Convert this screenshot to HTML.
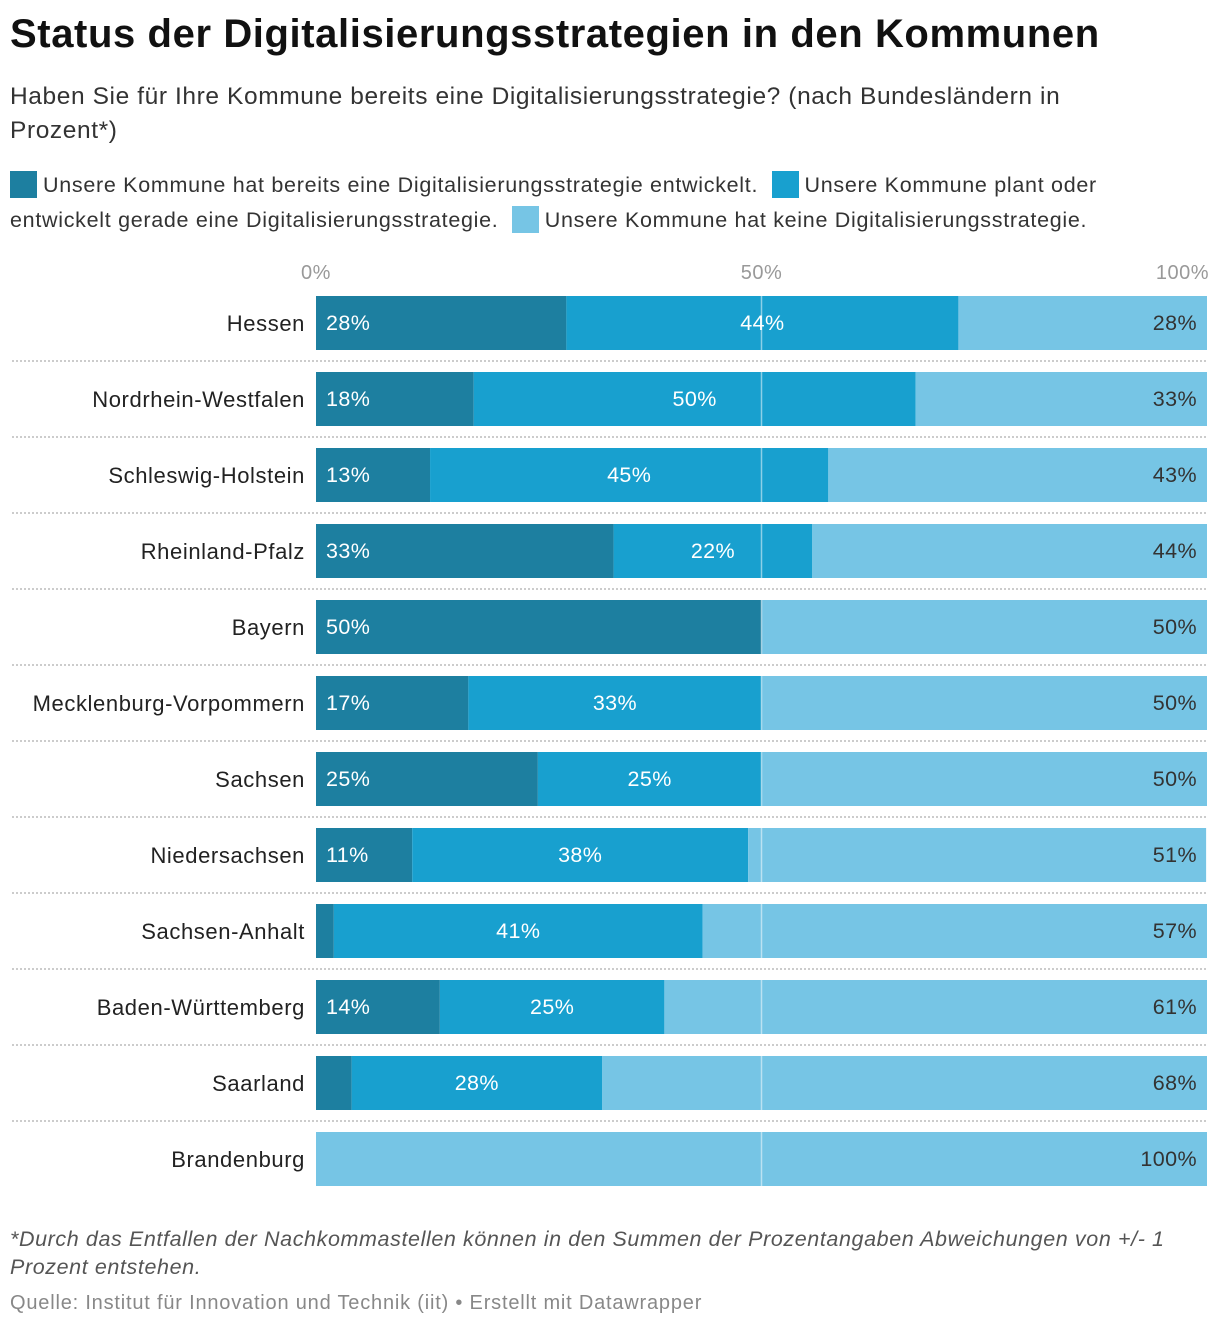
<!DOCTYPE html>
<html><head><meta charset="utf-8"><style>
body{margin:0;width:1220px;height:1330px;background:#fff;font-family:"Liberation Sans",sans-serif;position:relative;overflow:hidden;color:#222}
.t{position:absolute;left:10px;top:12px;font-size:40px;font-weight:bold;color:#111;letter-spacing:0.6px}
.s{position:absolute;left:10px;top:80px;width:1150px;font-size:24.5px;line-height:34px;color:#333;letter-spacing:0.6px}
.lg{position:absolute;left:10px;top:168px;width:1160px;font-size:21.5px;line-height:35px;color:#333;letter-spacing:0.7px}
.sw{display:inline-block;width:27px;height:27px;vertical-align:-6px;margin-right:6px}
.n1{position:absolute;left:10px;top:1225px;width:1195px;font-size:21.5px;line-height:28px;font-style:italic;color:#555;letter-spacing:0.6px}
.n2{position:absolute;left:10px;top:1292px;font-size:20px;color:#888;letter-spacing:0.8px}
</style></head><body>
<div class="t">Status der Digitalisierungsstrategien in den Kommunen</div>
<div class="s">Haben Sie für Ihre Kommune bereits eine Digitalisierungsstrategie? (nach Bundesländern in Prozent*)</div>
<div class="lg"><span><span class="sw" style="background:#1d7fa0"></span>Unsere Kommune hat bereits eine Digitalisierungsstrategie entwickelt.</span> &nbsp;<span><span class="sw" style="background:#18a0cf"></span>Unsere Kommune plant oder entwickelt gerade eine Digitalisierungsstrategie.</span> &nbsp;<span><span class="sw" style="background:#76c5e5"></span>Unsere Kommune hat keine Digitalisierungsstrategie.</span></div>
<svg id="chart" width="1220" height="1330" style="position:absolute;left:0;top:0"></svg>
<div class="n1">*Durch das Entfallen der Nachkommastellen können in den Summen der Prozentangaben Abweichungen von +/- 1 Prozent entstehen.</div>
<div class="n2">Quelle: Institut für Innovation und Technik (iit) • Erstellt mit Datawrapper</div>
<script>
const categories=["Hessen","Nordrhein-Westfalen","Schleswig-Holstein","Rheinland-Pfalz","Bayern","Mecklenburg-Vorpommern","Sachsen","Niedersachsen","Sachsen-Anhalt","Baden-Württemberg","Saarland","Brandenburg"];
const entwickelt=[28.1,17.7,12.8,33.4,50,17.1,24.9,10.8,2.0,13.9,4.0,0];
const plant=[44,49.6,44.7,22.3,0,32.9,25.1,37.7,41.4,25.2,28.1,0];
const keine=[27.9,32.7,42.5,44.3,50,50,50,51.4,56.6,60.9,67.9,100];
const ticks=[0,50,100];
const tickLabels=["0%","50%","100%"];
const svg=document.getElementById('chart');const NS="http://www.w3.org/2000/svg";
const x0=316,x1=1207;const X=v=>x0+(x1-x0)*v/100;
const rowY=i=>296+i*76;const BH=54;
function el(t,a,p){const e=document.createElementNS(NS,t);for(const k in a)e.setAttribute(k,a[k]);(p||svg).appendChild(e);return e;}
ticks.forEach((t,i)=>{const e=el('text',{x:X(t),y:279,'font-size':20,fill:'#999','text-anchor':i==2?'end':'middle','letter-spacing':0.5});


e.textContent=tickLabels[i];if(i==2)e.setAttribute('x',x1+2);});
const series=[entwickelt,plant,keine];const cols=["#1d7fa0","#18a0cf","#76c5e5"];const tcol=["#fff","#fff","#333"];
const snames=["entwickelt","plant","keine"];
categories.forEach((c,i)=>{const y=rowY(i);
 const lab=el('text',{x:305,y:y+35,'font-size':22,fill:'#222','text-anchor':'end','letter-spacing':0.6});
 
 
 lab.textContent=c;
 if(i<categories.length-1){const l=el('line',{x1:12,x2:1207,y1:y+65,y2:y+65,stroke:'#bbb','stroke-width':1.5,'stroke-dasharray':'2,2'});
 
 }
 let acc=0;
 series.forEach((s,k)=>{const v=s[i];if(v<=0){return;}
  const r=el('rect',{x:X(acc),y:y,width:X(acc+v)-X(acc),height:BH,fill:cols[k]});
  
  
  acc+=v;});
 const g=el('line',{x1:X(50),x2:X(50),y1:y,y2:y+BH,stroke:'#fff','stroke-opacity':0.5,'stroke-width':1.5});
 
 
 acc=0;
 series.forEach((s,k)=>{const v=s[i];
  if(v>=5){let tx,anc;
   if(k==0){tx=X(acc)+10;anc='start';}else if(k==2){tx=x1-10;anc='end';}else{tx=(X(acc)+X(acc+v))/2;anc='middle';}
   const t=el('text',{x:tx,y:y+34,'font-size':21.5,fill:tcol[k],'text-anchor':anc,'letter-spacing':0.4});
   
   
   t.textContent=Math.round(v)+'%';}
  acc+=v;});
});
</script>
</body></html>
